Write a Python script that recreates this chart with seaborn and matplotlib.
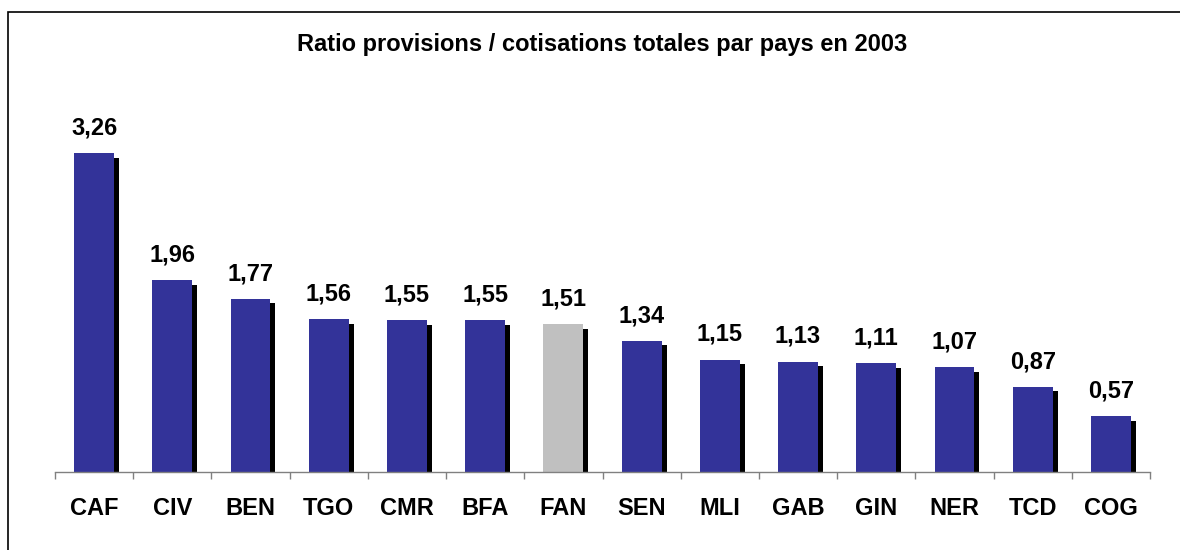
import numpy as np
import pandas as pd
import matplotlib
matplotlib.use("Agg")
import matplotlib.pyplot as plt
import matplotlib.patheffects as pe
from matplotlib.patches import Rectangle
import seaborn as sns

# Ratio provisions / total contributions by country, 2003
countries = ["CAF", "CIV", "BEN", "TGO", "CMR", "BFA", "FAN",
             "SEN", "MLI", "GAB", "GIN", "NER", "TCD", "COG"]
ratios = [3.26, 1.96, 1.77, 1.56, 1.55, 1.55, 1.51,
          1.34, 1.15, 1.13, 1.11, 1.07, 0.87, 0.57]
highlight = "FAN"

BLUE = "#333399"
GREY = "#C0C0C0"

sns.set_theme(style="white")
plt.rcParams["font.family"] = ["Liberation Sans", "DejaVu Sans"]
plt.rcParams["text.color"] = "black"

df = pd.DataFrame({"pays": countries, "ratio": ratios})
palette = {c: (GREY if c == highlight else BLUE) for c in countries}

fig = plt.figure(figsize=(11.8, 5.5), dpi=100)
ax = fig.add_axes([55 / 1180, 78 / 550, 1095 / 1180, 352 / 550])

sns.barplot(data=df, x="pays", y="ratio", hue="pays", palette=palette,
            order=countries, hue_order=countries, legend=False,
            width=0.51, saturation=1, ax=ax)

# Solid black drop shadow on each bar
for bar in ax.patches:
    bar.set_edgecolor("none")
    bar.set_path_effects([
        pe.SimplePatchShadow(offset=(3.6, -3.2), shadow_rgbFace="black", alpha=1.0),
        pe.Normal(),
    ])

# Value labels with a decimal comma
for bar, v in zip(ax.patches, ratios):
    ax.annotate(f"{v:.2f}".replace(".", ","),
                xy=(bar.get_x() + bar.get_width() / 2, bar.get_height()),
                xytext=(0, 10), textcoords="offset points",
                ha="center", va="bottom", fontsize=17, fontweight="bold",
                color="black")

ax.set_xlim(-0.5, len(countries) - 0.5)
ax.set_ylim(0, 3.6)
ax.set_xlabel("")
ax.set_ylabel("")
ax.set_yticks([])

for side in ["top", "right", "left"]:
    ax.spines[side].set_visible(False)
ax.spines["bottom"].set_color("#808080")
ax.spines["bottom"].set_linewidth(1.0)

ax.set_xticks(np.arange(len(countries)))
ax.set_xticklabels(countries, fontsize=17, fontweight="bold")
ax.tick_params(axis="x", which="major", length=0, pad=18, colors="black")
ax.set_xticks(np.arange(-0.5, len(countries)), minor=True)
ax.tick_params(axis="x", which="minor", length=5, width=1.0,
               color="#808080", direction="out", bottom=True)

fig.text(0.51, 1 - 45 / 550,
         "Ratio provisions / cotisations totales par pays en 2003",
         ha="center", va="center", fontsize=17, fontweight="bold",
         color="black")

# Outer frame
fig.patches.append(Rectangle((8 / 1180, -0.1), 1.2, (550 - 12) / 550 + 0.1,
                             transform=fig.transFigure, fill=False,
                             edgecolor="black", linewidth=1.2))

fig.savefig("out.png", dpi=100)
